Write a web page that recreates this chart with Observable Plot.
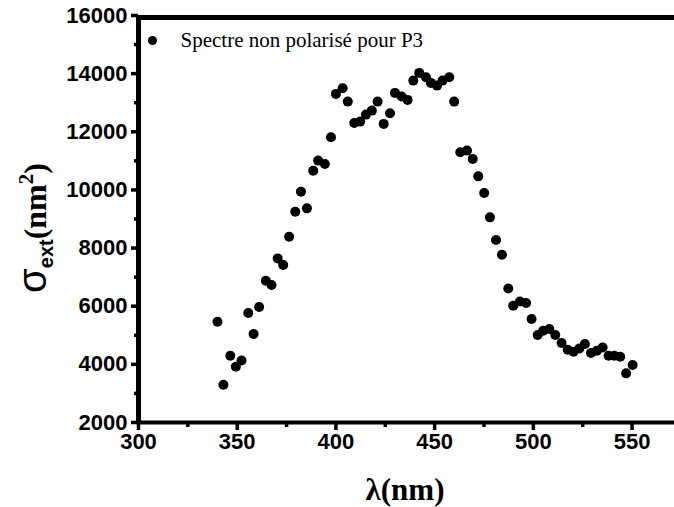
<!DOCTYPE html>
<html>
<head>
<meta charset="utf-8">
<script src="https://cdn.jsdelivr.net/npm/d3@7"></script>
<script src="https://cdn.jsdelivr.net/npm/@observablehq/plot@0.6"></script>
<style>
  html, body { margin: 0; padding: 0; background: #fff; }
</style>
</head>
<body>
<div id="chart"></div>
<script>
const wavelength = [340, 343, 346.5, 349.3, 352.2, 355.6, 358.3, 361.1, 364.5, 367.4, 370.5, 373.3, 376.3, 379.4, 382.3, 385.3, 388.5, 391, 394.4, 397.5, 400, 403.4, 406, 409.3, 412.3, 415.2, 418.2, 421.1, 424.2, 427.4, 429.9, 433.3, 436.3, 439.2, 442.2, 445.6, 448.1, 451.2, 454, 457.4, 459.9, 463, 466.4, 469.3, 472.1, 475.1, 478, 481.1, 484.1, 487.3, 489.8, 493.2, 496.3, 499.1, 502.2, 505, 508.1, 511.1, 514.3, 517.4, 520.4, 523.3, 526.1, 529.2, 532.2, 535.1, 538.1, 541, 544, 547, 550.3];
const sigmaExt = [5466, 3298, 4296, 3917, 4130, 5766, 5043, 5972, 6877, 6729, 7645, 7418, 8392, 9252, 9941, 9366, 10664, 11008, 10894, 11810, 13304, 13496, 13038, 12305, 12350, 12591, 12729, 13038, 12271, 12636, 13338, 13211, 13097, 13761, 14026, 13875, 13682, 13589, 13761, 13875, 13038, 11293, 11352, 11066, 10467, 9896, 9056, 8278, 7772, 6612, 6017, 6165, 6110, 5559, 5008, 5156, 5215, 5008, 4733, 4502, 4434, 4547, 4699, 4389, 4468, 4582, 4296, 4296, 4262, 3690, 3976];
const xMajorTicks = [300, 350, 400, 450, 500, 550];
const xMinorTicks = [325, 375, 425, 475, 525];
const yMajorTicks = [2000, 4000, 6000, 8000, 10000, 12000, 14000, 16000];
const yMinorTicks = [3000, 5000, 7000, 9000, 11000, 13000, 15000];
const legendLabel = "Spectre non polarisé pour P3";

const data = wavelength.map((w, i) => ({w, s: sigmaExt[i]}));
const sans = "'Liberation Sans', Arial, sans-serif";
const serif = "'Liberation Serif', 'Times New Roman', serif";
const plain = d => String(d);

const chart = Plot.plot({
  width: 674,
  height: 507,
  marginLeft: 138,
  marginRight: 0,
  marginTop: 15,
  marginBottom: 85,
  style: {fontFamily: sans, fontWeight: "bold", color: "#000", background: "#fff", overflow: "visible"},
  x: {domain: [300, 571.5]},
  y: {domain: [2000, 16000]},
  marks: [
    Plot.axisX({ticks: xMajorTicks, tickSize: 8, tickPadding: 3, strokeWidth: 3.5, fontSize: 22, fontWeight: "bold", tickFormat: plain, label: null}),
    Plot.axisX({ticks: xMinorTicks, tickSize: 5, strokeWidth: 3.5, tickFormat: () => "", label: null}),
    Plot.axisY({ticks: yMajorTicks, tickSize: 7, tickPadding: 4, strokeWidth: 3.5, fontSize: 22, fontWeight: "bold", tickFormat: plain, label: null}),
    Plot.axisY({ticks: yMinorTicks, tickSize: 4, strokeWidth: 3.5, tickFormat: () => "", label: null}),
    Plot.ruleX([300], {strokeWidth: 5}),
    Plot.ruleY([2000], {strokeWidth: 4}),
    Plot.ruleY([16000], {strokeWidth: 5, dy: 2}),
    Plot.dot(data, {x: "w", y: "s", r: 5, fill: "#000", stroke: "none"}),
    Plot.dot([legendLabel], {frameAnchor: "top-left", dx: 14, dy: 25, r: 4.5, fill: "#000", stroke: "none"}),
    Plot.text([legendLabel], {frameAnchor: "top-left", dx: 42, dy: 25, lineAnchor: "middle", text: d => d, textAnchor: "start", fontSize: 21, fontFamily: serif, fontWeight: "normal", fill: "#000"})
  ]
});

const svg = d3.select(chart);
// x axis title
svg.append("text")
  .attr("x", 405).attr("y", 500)
  .attr("text-anchor", "middle")
  .attr("font-family", serif).attr("font-weight", "bold").attr("font-size", 31)
  .attr("fill", "#000")
  .text("λ(nm)");
// y axis title
const yt = svg.append("text")
  .attr("transform", "translate(46,228) rotate(-90)")
  .attr("text-anchor", "middle")
  .attr("font-family", serif).attr("font-weight", "bold")
  .attr("fill", "#000");
yt.append("tspan").attr("font-size", 40).attr("font-family", sans).attr("font-weight", "normal").text("σ");
yt.append("tspan").attr("font-size", 20).attr("font-family", sans).attr("dy", 7).text("ext");
yt.append("tspan").attr("font-size", 32).attr("dy", -7).text("(nm");
yt.append("tspan").attr("font-size", 21).attr("dy", -13).text("2");
yt.append("tspan").attr("font-size", 32).attr("dy", 13).text(")");

document.getElementById("chart").appendChild(chart);
</script>
</body>
</html>
